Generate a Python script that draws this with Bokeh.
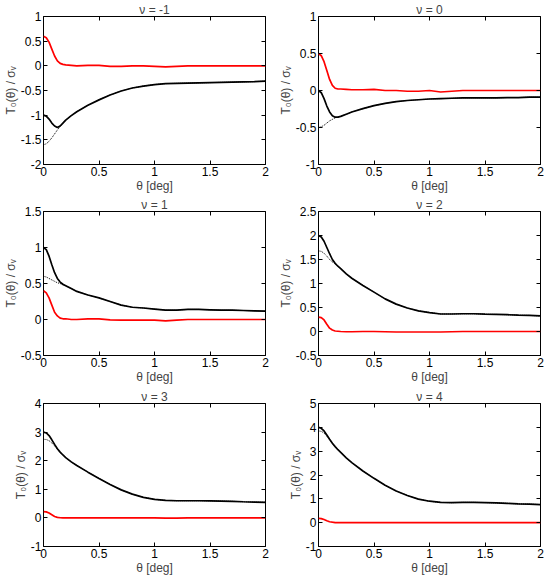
from bokeh.plotting import figure
from bokeh.layouts import gridplot
from bokeh.models import Range1d, LinearAxis, FixedTicker
from bokeh.embed import file_html
from bokeh.resources import INLINE

theta = [0, 0.025, 0.05, 0.075, 0.1, 0.125, 0.15, 0.175, 0.2, 0.25, 0.3, 0.4, 0.5, 0.6,
         0.7, 0.8, 0.9, 1.0, 1.1, 1.2, 1.3, 1.4, 1.5, 1.6, 1.7, 1.8, 1.9, 2.0]

nu_labels = ["ν = -1", "ν = 0", "ν = 1", "ν = 2", "ν = 3", "ν = 4"]

solid_m1 = [-1.0, -1.02, -1.08, -1.16, -1.22, -1.25, -1.22, -1.16, -1.1, -1.01, -0.93, -0.8, -0.69, -0.59,
            -0.51, -0.45, -0.41, -0.38, -0.36, -0.355, -0.35, -0.345, -0.34, -0.335, -0.33, -0.325, -0.32, -0.31]
dotted_m1 = [-1.6, -1.58, -1.53, -1.46, -1.38, -1.3, -1.23, -1.16, -1.1, -1.01, -0.93, -0.8, -0.69, -0.59,
             -0.51, -0.45, -0.41, -0.38, -0.36, -0.355, -0.35, -0.345, -0.34, -0.335, -0.33, -0.325, -0.32, -0.31]
red_m1 = [0.6, 0.57, 0.48, 0.34, 0.2, 0.1, 0.05, 0.03, 0.02, 0.01, 0.0, 0.01, 0.01, -0.01,
          -0.01, 0.0, 0.0, -0.01, -0.02, -0.01, 0.0, 0.0, 0.0, 0.0, 0.0, 0.0, 0.0, 0.0]

solid_0 = [0.0, -0.03, -0.11, -0.21, -0.29, -0.34, -0.36, -0.36, -0.35, -0.32, -0.29, -0.245, -0.205, -0.175,
           -0.15, -0.135, -0.125, -0.115, -0.11, -0.105, -0.1, -0.1, -0.1, -0.1, -0.095, -0.095, -0.09, -0.09]
dotted_0 = [-0.5, -0.49, -0.47, -0.44, -0.41, -0.39, -0.37, -0.36, -0.35, -0.32, -0.29, -0.245, -0.205, -0.175,
            -0.15, -0.135, -0.125, -0.115, -0.11, -0.105, -0.1, -0.1, -0.1, -0.1, -0.095, -0.095, -0.09, -0.09]
red_0 = [0.5, 0.47, 0.39, 0.27, 0.15, 0.07, 0.03, 0.02, 0.02, 0.015, 0.01, 0.01, 0.015, 0.0,
         0.0, -0.01, -0.01, 0.0, -0.02, -0.01, 0.0, 0.0, 0.0, 0.0, 0.0, 0.0, 0.0, 0.0]

solid_1 = [1.0, 0.97, 0.88, 0.76, 0.65, 0.57, 0.52, 0.49, 0.47, 0.43, 0.39, 0.34, 0.3, 0.25,
           0.2, 0.17, 0.16, 0.145, 0.13, 0.13, 0.14, 0.14, 0.135, 0.13, 0.13, 0.125, 0.12, 0.115]
dotted_1 = [0.6, 0.59, 0.57, 0.55, 0.53, 0.51, 0.5, 0.48, 0.47, 0.43, 0.39, 0.34, 0.3, 0.25,
            0.2, 0.17, 0.16, 0.145, 0.13, 0.13, 0.14, 0.14, 0.135, 0.13, 0.13, 0.125, 0.12, 0.115]
red_1 = [0.4, 0.37, 0.3, 0.2, 0.1, 0.05, 0.02, 0.01, 0.01, 0.0, 0.0, 0.01, 0.01, -0.005,
         -0.01, -0.01, -0.01, -0.01, -0.02, -0.01, 0.0, 0.0, 0.0, 0.0, 0.0, 0.0, 0.0, 0.0]

solid_2 = [2.0, 1.97, 1.88, 1.75, 1.62, 1.5, 1.42, 1.36, 1.31, 1.2, 1.11, 0.96, 0.82, 0.68,
           0.57, 0.49, 0.43, 0.395, 0.365, 0.365, 0.37, 0.37, 0.36, 0.355, 0.35, 0.34, 0.335, 0.325]
dotted_2 = [1.68, 1.67, 1.63, 1.57, 1.5, 1.45, 1.41, 1.36, 1.31, 1.2, 1.11, 0.96, 0.82, 0.68,
            0.57, 0.49, 0.43, 0.395, 0.365, 0.365, 0.37, 0.37, 0.36, 0.355, 0.35, 0.34, 0.335, 0.325]
red_2 = [0.3, 0.29, 0.24, 0.15, 0.07, 0.03, 0.01, 0.005, 0.0, -0.005, -0.005, 0.0, 0.0, -0.005,
         -0.01, -0.01, -0.01, -0.01, -0.01, -0.005, 0.0, 0.0, 0.0, 0.0, 0.0, 0.0, 0.0, 0.0]

solid_3 = [3.0, 2.97, 2.88, 2.73, 2.57, 2.42, 2.3, 2.2, 2.11, 1.96, 1.83, 1.6, 1.38, 1.17,
           0.98, 0.83, 0.72, 0.65, 0.61, 0.6, 0.6, 0.6, 0.595, 0.59, 0.58, 0.565, 0.555, 0.545]
dotted_3 = [2.75, 2.74, 2.7, 2.62, 2.52, 2.4, 2.29, 2.2, 2.11, 1.96, 1.83, 1.6, 1.38, 1.17,
            0.98, 0.83, 0.72, 0.65, 0.61, 0.6, 0.6, 0.6, 0.595, 0.59, 0.58, 0.565, 0.555, 0.545]
red_3 = [0.22, 0.21, 0.17, 0.11, 0.05, 0.02, 0.005, 0.0, 0.0, 0.0, 0.0, 0.0, 0.0, 0.0,
         0.0, 0.0, 0.0, 0.0, -0.01, -0.005, 0.0, 0.0, 0.0, 0.0, 0.0, 0.0, 0.0, 0.0]

solid_4 = [4.0, 3.96, 3.85, 3.68, 3.5, 3.33, 3.19, 3.06, 2.95, 2.72, 2.52, 2.17, 1.86, 1.57,
           1.33, 1.14, 0.99, 0.9, 0.85, 0.84, 0.85, 0.85, 0.845, 0.83, 0.81, 0.79, 0.775, 0.76]
dotted_4 = [3.85, 3.83, 3.76, 3.63, 3.48, 3.32, 3.19, 3.06, 2.95, 2.72, 2.52, 2.17, 1.86, 1.57,
            1.33, 1.14, 0.99, 0.9, 0.85, 0.84, 0.85, 0.85, 0.845, 0.83, 0.81, 0.79, 0.775, 0.76]
red_4 = [0.18, 0.17, 0.13, 0.08, 0.04, 0.02, 0.005, 0.0, 0.0, 0.0, 0.0, 0.0, 0.0, 0.0,
         0.0, 0.0, 0.0, 0.0, 0.0, 0.0, 0.0, 0.0, 0.0, 0.0, 0.0, 0.0, 0.0, 0.0]

x_ticks = [0, 0.5, 1, 1.5, 2]
x_tick_labels = ["0", "0.5", "1", "1.5", "2"]

y_ticks_m1 = [-2, -1.5, -1, -0.5, 0, 0.5, 1]
y_labels_m1 = ["-2", "-1.5", "-1", "-0.5", "0", "0.5", "1"]
y_ticks_0 = [-1, -0.5, 0, 0.5, 1]
y_labels_0 = ["-1", "-0.5", "0", "0.5", "1"]
y_ticks_1 = [-0.5, 0, 0.5, 1, 1.5]
y_labels_1 = ["-0.5", "0", "0.5", "1", "1.5"]
y_ticks_2 = [-0.5, 0, 0.5, 1, 1.5, 2, 2.5]
y_labels_2 = ["-0.5", "0", "0.5", "1", "1.5", "2", "2.5"]
y_ticks_3 = [-1, 0, 1, 2, 3, 4]
y_labels_3 = ["-1", "0", "1", "2", "3", "4"]
y_ticks_4 = [-1, 0, 1, 2, 3, 4, 5]
y_labels_4 = ["-1", "0", "1", "2", "3", "4", "5"]

FONT = "Liberation Sans"
FS = "12px"

panels = [
    (nu_labels[0], solid_m1, dotted_m1, red_m1, y_ticks_m1, y_labels_m1),
    (nu_labels[1], solid_0, dotted_0, red_0, y_ticks_0, y_labels_0),
    (nu_labels[2], solid_1, dotted_1, red_1, y_ticks_1, y_labels_1),
    (nu_labels[3], solid_2, dotted_2, red_2, y_ticks_2, y_labels_2),
    (nu_labels[4], solid_3, dotted_3, red_3, y_ticks_3, y_labels_3),
    (nu_labels[5], solid_4, dotted_4, red_4, y_ticks_4, y_labels_4),
]

widths = [275, 273]
heights = [195, 191, 191]
tops = [15, 14, 17]
rights = [10, 8]


def style_axis(ax, ticks, labels, show_labels=True):
    ax.ticker = FixedTicker(ticks=ticks)
    ax.major_tick_in = 4
    ax.major_tick_out = 0
    ax.minor_tick_line_color = None
    ax.axis_line_color = None
    ax.major_tick_line_color = "black"
    if show_labels:
        ax.major_label_overrides = {t: l for t, l in zip(ticks, labels)}
        ax.major_label_text_font = FONT
        ax.major_label_text_color = "black"
        ax.major_label_text_font_size = FS
        ax.major_label_standoff = 2
    else:
        ax.major_label_text_color = None
        ax.major_label_text_font_size = "0px"
        ax.major_label_standoff = 0


figs = []
for i, (title, solid, dotted, red, yt, yl) in enumerate(panels):
    r, c = divmod(i, 2)
    p = figure(width=widths[c], height=heights[r], output_backend="svg",
               toolbar_location=None, x_range=Range1d(0, 2),
               y_range=Range1d(yt[0], yt[-1]), title=title,
               min_border_left=0, min_border_right=rights[c],
               min_border_top=tops[r], min_border_bottom=0)
    p.title.align = "center"
    p.title.text_font = FONT
    p.title.text_font_size = FS
    p.title.text_font_style = "normal"
    p.title.standoff = 0
    p.grid.visible = False
    p.outline_line_color = "black"
    p.outline_line_width = 1
    p.background_fill_color = "white"
    p.border_fill_color = "white"

    style_axis(p.xaxis[0], x_ticks, x_tick_labels)
    style_axis(p.yaxis[0], yt, yl)
    p.xaxis.axis_label = "θ [deg]"
    p.yaxis.axis_label = "T₀(θ) / σᵥ"
    for ax in (p.xaxis[0], p.yaxis[0]):
        ax.axis_label_text_font = FONT
        ax.axis_label_text_font_size = FS
        ax.axis_label_text_font_style = "normal"
        ax.axis_label_standoff = 0

    top_ax = LinearAxis()
    style_axis(top_ax, x_ticks, x_tick_labels, show_labels=False)
    p.add_layout(top_ax, "above")
    right_ax = LinearAxis()
    style_axis(right_ax, yt, yl, show_labels=False)
    p.add_layout(right_ax, "right")

    p.line(theta, dotted, line_color="black", line_width=1, line_dash="1 1")
    p.line(theta, solid, line_color="black", line_width=1.7)
    p.line(theta, red, line_color="red", line_width=1.7)
    figs.append(p)

grid = gridplot([[figs[0], figs[1]], [figs[2], figs[3]], [figs[4], figs[5]]],
                toolbar_location=None)

open("out.html", "w").write(file_html(grid, INLINE))
